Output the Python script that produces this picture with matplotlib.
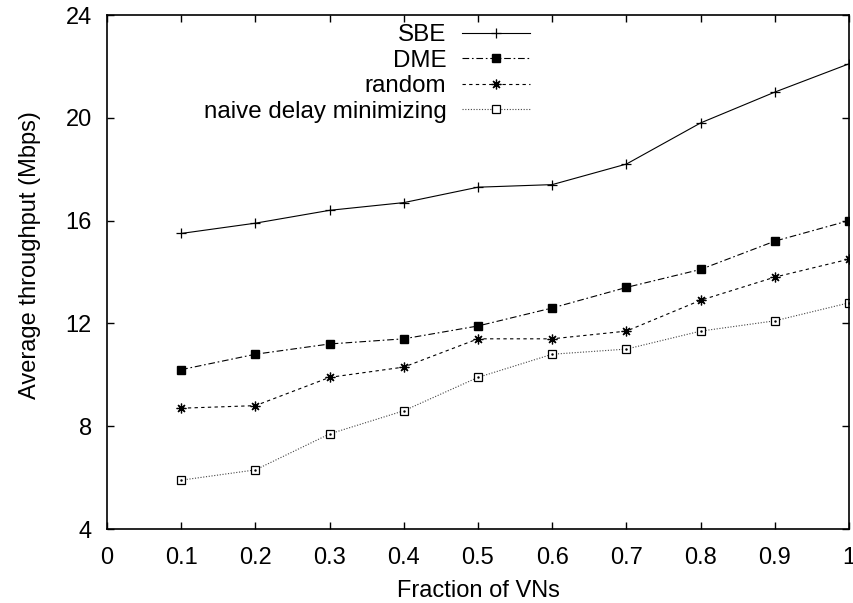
import matplotlib
matplotlib.use("Agg")
import matplotlib.pyplot as plt

plt.rcParams['font.family'] = ['Liberation Sans', 'DejaVu Sans']

fractions = [0.1, 0.2, 0.3, 0.4, 0.5, 0.6, 0.7, 0.8, 0.9, 1.0]
sbe = [15.5, 15.9, 16.4, 16.7, 17.3, 17.4, 18.2, 19.8, 21.0, 22.1]
dme = [10.2, 10.8, 11.2, 11.4, 11.9, 12.6, 13.4, 14.1, 15.2, 16.0]
rand = [8.7, 8.8, 9.9, 10.3, 11.4, 11.4, 11.7, 12.9, 13.8, 14.5]
naive = [5.9, 6.3, 7.7, 8.6, 9.9, 10.8, 11.0, 11.7, 12.1, 12.8]

x_ticks = [0, 0.1, 0.2, 0.3, 0.4, 0.5, 0.6, 0.7, 0.8, 0.9, 1]
x_labels = ["0", "0.1", "0.2", "0.3", "0.4", "0.5", "0.6", "0.7", "0.8", "0.9", "1"]
y_ticks = [4, 8, 12, 16, 20, 24]

FS = 17

fig = plt.figure(figsize=(8.54, 6.03), dpi=100)
ax = fig.add_axes([107/854, 1-529/603, (849-107)/854, (529-15)/603])

ax.plot(fractions, sbe, color='black', lw=0.8, ls='-', marker='+', ms=6.5, mew=0.9, label='SBE')
ax.plot(fractions, dme, color='black', lw=0.8, ls=(0, (6, 2.5, 1.5, 2.5)), marker='s', ms=5.8, label='DME')
ax.plot(fractions, rand, color='black', lw=0.8, ls=(0, (3, 3)), marker=(8, 2, 0), ms=7, mew=0.9, label='random')
ax.plot(fractions, naive, color='#444444', lw=0.8, ls=(0, (1, 1.5)), marker='s', ms=6.2, mfc='white', mec='black', mew=0.9, label='naive delay minimizing')
ax.plot(fractions, naive, ls='none', marker='.', ms=1.5, color='black')

ax.set_xlim(0, 1)
ax.set_ylim(4, 24)
ax.set_xticks(x_ticks)
ax.set_xticklabels(x_labels)
ax.set_yticks(y_ticks)
ax.tick_params(direction='in', length=5, width=1, top=True, right=True, labelsize=FS)
ax.tick_params(axis='x', pad=13)
ax.tick_params(axis='y', pad=11)
for s in ax.spines.values():
    s.set_linewidth(1.2)

ax.set_xlabel('Fraction of VNs', fontsize=FS, labelpad=8)
ax.set_ylabel('Average throughput (Mbps)', fontsize=FS)
ax.yaxis.set_label_coords(-0.089, 0.533)

leg = ax.legend(loc='upper right', bbox_to_anchor=((530-107)/742, (529-24)/514), frameon=False, markerfirst=False,
                fontsize=17.4, handlelength=2.8, labelspacing=0.15, borderaxespad=0, borderpad=0,
                handletextpad=0.66)

fig.savefig('out.png', dpi=100)
